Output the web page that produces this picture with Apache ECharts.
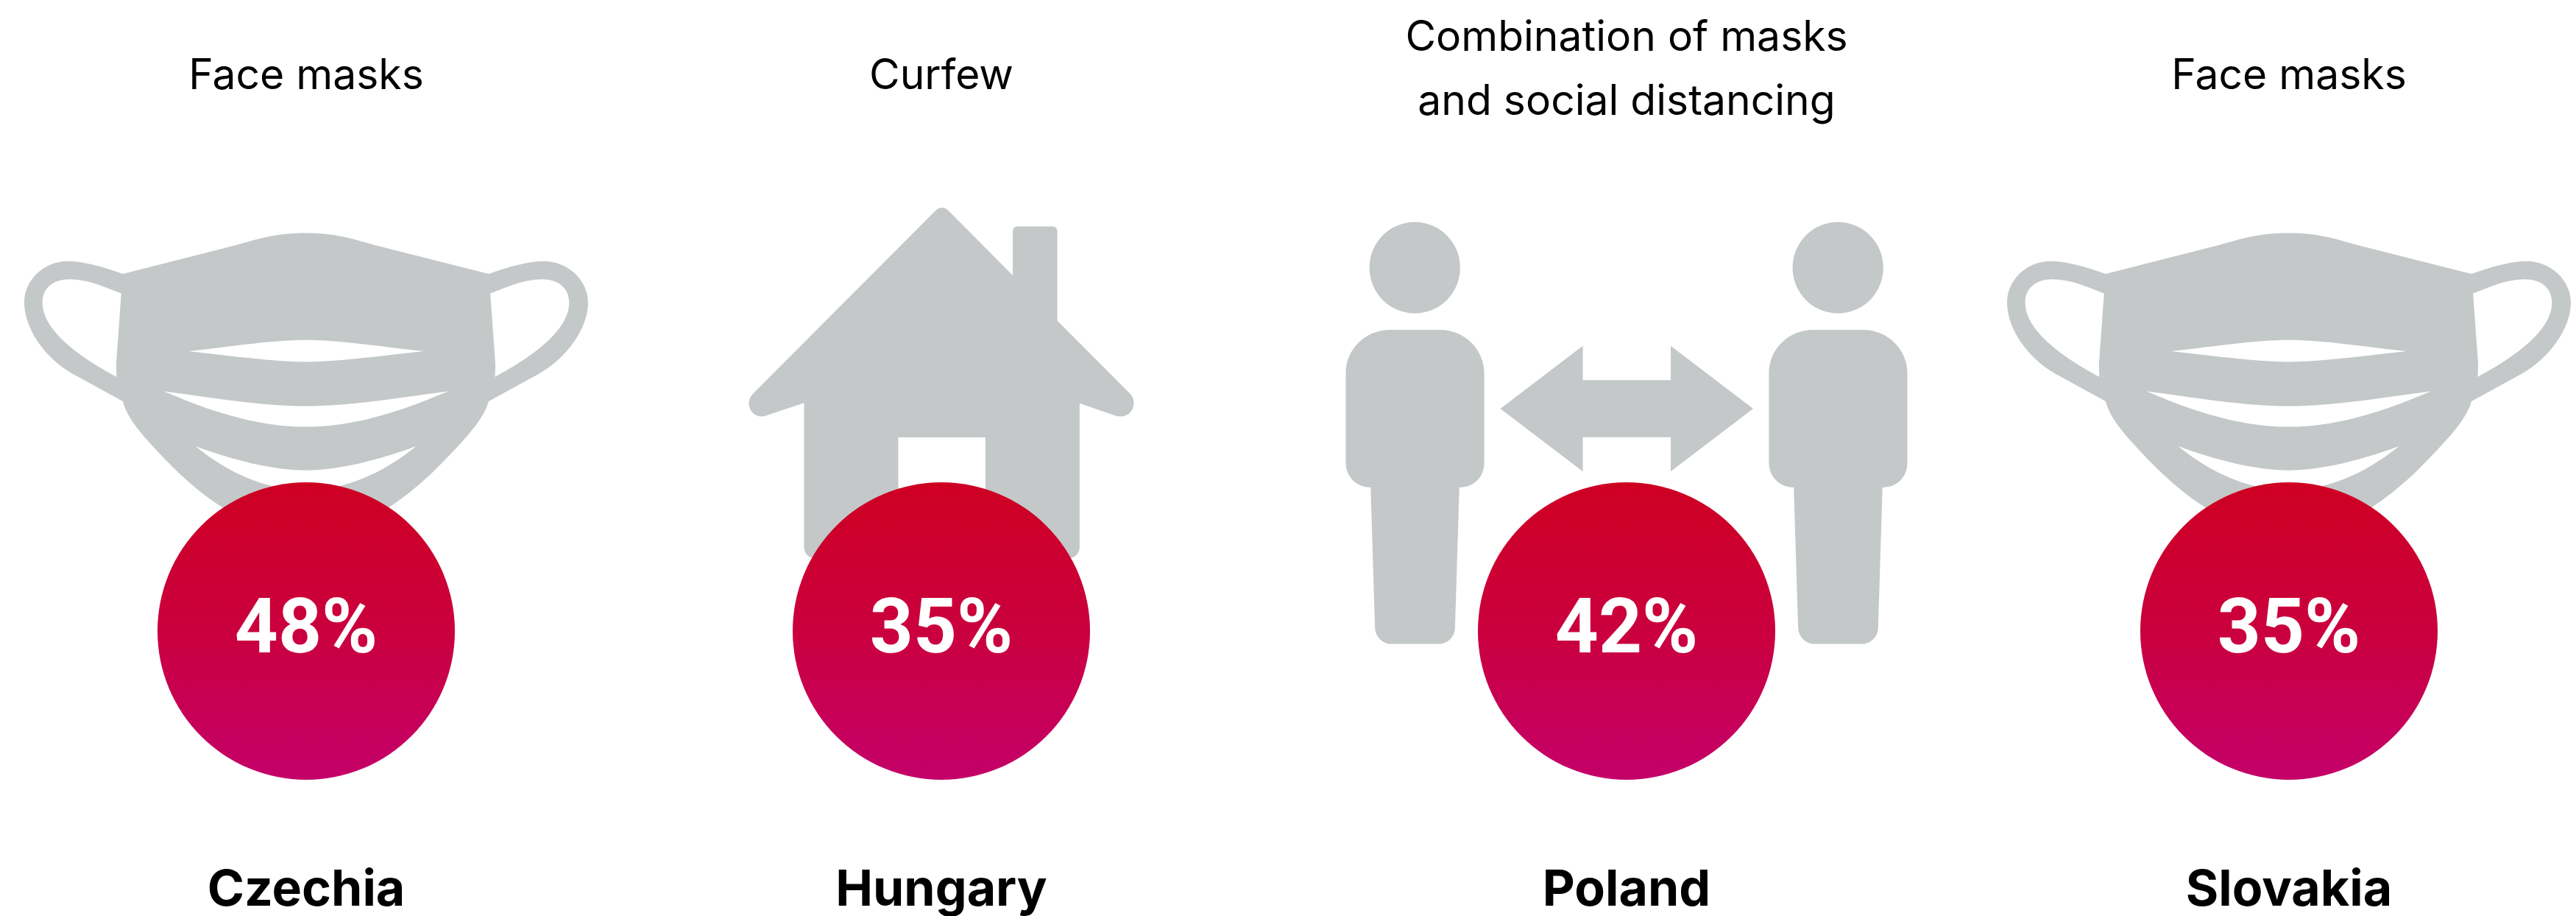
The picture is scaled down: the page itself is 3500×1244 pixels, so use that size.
<!DOCTYPE html>
<html>
<head>
<meta charset="utf-8">
<title>Measures</title>
<style>
  html, body { margin: 0; padding: 0; background: #fff; }
  #chart { width: 3500px; height: 1244px; }
</style>
<script src="https://cdn.jsdelivr.net/npm/echarts@6/dist/echarts.min.js"></script>
</head>
<body>
<div id="chart"></div>
<script>
var countries = ['Czechia', 'Hungary', 'Poland', 'Slovakia'];
var measures = ['Face masks', 'Curfew', 'Combination of masks\nand social distancing', 'Face masks'];
var shares = [48, 35, 42, 35];

// icons are decoration
var maskIcon = 'path://M776 90C840 90 880 100 950 122L1240 199C1290 180 1340 165 1380 165C1440 165 1492 215 1492 275C1492 345 1437 424 1367 465L1240 538C1225 590 1180 640 1100 725C1050 775 1010 805 985 822L776 900L567 822C540 805 500 775 450 725C370 640 325 590 312 538L185 465C115 424 62 345 62 275C62 215 112 165 172 165C212 165 262 180 312 199L600 122C670 100 712 90 776 90Z' +
  'M1244 251L1257 440L1256 473C1350 420 1444 350 1444 275C1444 235 1415 213 1375 213C1330 213 1290 232 1244 251Z' +
  'M308 251C262 232 222 213 177 213C137 213 108 235 108 275C108 350 202 420 296 473L295 440Z' +
  'M1075 405C960 392 860 375 776 375C692 375 592 392 478 405C592 418 692 433 776 433C860 433 960 418 1075 405Z' +
  'M1138 511C1020 528 880 551 776 551C672 551 532 528 415 511C470 535 520 556 550 565C640 595 710 606 776 606C842 606 912 595 1002 565C1032 556 1082 535 1138 511Z' +
  'M1056 658C960 695 860 722 776 722C692 722 592 695 496 658C540 695 590 730 660 755C700 768 740 775 776 775C812 775 852 768 892 755C962 730 1012 695 1056 658Z';
var houseIcon = 'path://M760 95Q784 72 808 95L1035 324L1035 168Q1035 150 1053 150L1175 150Q1193 150 1193 168L1193 485L1450 743C1480 775 1460 825 1417 825Q1405 825 1395 821L1272 778L1272 1290C1272 1310 1255 1328 1235 1328L332 1328C312 1328 295 1310 295 1290L295 777L165 820Q155 825 145 825C105 825 82 775 115 743Z' +
  'M938 899L629 899L629 1200L938 1200Z';
var peopleIcon = 'path://M150 229A115 152 0 1 1 380 229A115 152 0 1 1 150 229Z' +
  'M202 436L330 436C390 436 441 500 441 580L441 878C441 925 415 960 378 960L367 1425C367 1455 350 1481 325 1481L205 1481C183 1481 164 1455 164 1425L153 960C118 960 90 925 90 878L90 580C90 500 140 436 202 436Z' +
  'M482 698L691 489L691 603L914 603L914 489L1123 698L914 907L914 793L691 793L691 907Z' +
  'M1223 229A115 152 0 1 1 1453 229A115 152 0 1 1 1223 229Z' +
  'M1275 436L1403 436C1463 436 1514 500 1514 580L1514 878C1514 925 1488 960 1451 960L1440 1425C1440 1455 1423 1481 1398 1481L1278 1481C1256 1481 1237 1455 1237 1425L1226 960C1191 960 1163 925 1163 878L1163 580C1163 500 1213 436 1275 436Z';

var centers = [416, 1279, 2210, 3110];
var measureMargin = [551, 551, 560, 551];
var icons = [maskIcon, houseIcon, peopleIcon, maskIcon];
var iconSize = [[766, 413], [523, 476], [763, 573], [766, 413]];
var iconOffset = [[0, -334], [0, -337], [0, -269], [0, -334]];

var textFont = 'Inter';
var valueFont = 'Roboto';
var circleSize = 404;

var grids = [], xAxes = [], yAxes = [], series = [];
countries.forEach(function (name, i) {
  grids.push({
    left: centers[i] - circleSize / 2,
    top: 655,
    width: circleSize,
    height: circleSize
  });
  xAxes.push({
    type: 'category',
    gridIndex: i,
    data: [name],
    axisLine: { show: false },
    axisTick: { show: false },
    axisLabel: {
      interval: 0,
      margin: 151,
      verticalAlign: 'middle',
      color: '#000',
      fontFamily: textFont,
      fontWeight: 700,
      fontSize: 68
    }
  });
  xAxes.push({
    type: 'category',
    gridIndex: i,
    position: 'top',
    data: [measures[i]],
    axisLine: { show: false },
    axisTick: { show: false },
    axisLabel: {
      interval: 0,
      margin: measureMargin[i],
      verticalAlign: 'middle',
      lineHeight: 87,
      color: '#000',
      fontFamily: textFont,
      fontWeight: 400,
      fontSize: 57
    }
  });
  yAxes.push({ type: 'category', gridIndex: i, data: ['share'], show: false });

  series.push({
    type: 'scatter',
    name: name + ' icon',
    xAxisIndex: i * 2,
    yAxisIndex: i,
    z: 1,
    clip: false,
    silent: true,
    symbol: icons[i],
    symbolSize: iconSize[i],
    symbolOffset: iconOffset[i],
    itemStyle: { color: '#c4c8c9', opacity: 1 },
    data: [[0, 0, shares[i]]]
  });
  series.push({
    type: 'scatter',
    name: name,
    xAxisIndex: i * 2,
    yAxisIndex: i,
    z: 2,
    clip: false,
    silent: true,
    symbol: 'circle',
    symbolSize: circleSize,
    itemStyle: {
      opacity: 1,
      color: {
        type: 'linear', x: 0, y: 0, x2: 0, y2: 1,
        colorStops: [
          { offset: 0, color: '#ce0022' },
          { offset: 0.5, color: '#ca003e' },
          { offset: 1, color: '#c4006a' }
        ]
      }
    },
    label: {
      show: true,
      position: 'inside',
      offset: [0, 3],
      formatter: function (p) { return p.value[2] + '%'; },
      color: '#fff',
      fontFamily: valueFont,
      fontWeight: 700,
      fontSize: 103
    },
    data: [[0, 0, shares[i]]]
  });
});

var chart = echarts.init(document.getElementById('chart'));
chart.setOption({
  animation: false,
  backgroundColor: '#fff',
  tooltip: { show: false },
  grid: grids,
  xAxis: xAxes,
  yAxis: yAxes,
  series: series
});
</script>
</body>
</html>
